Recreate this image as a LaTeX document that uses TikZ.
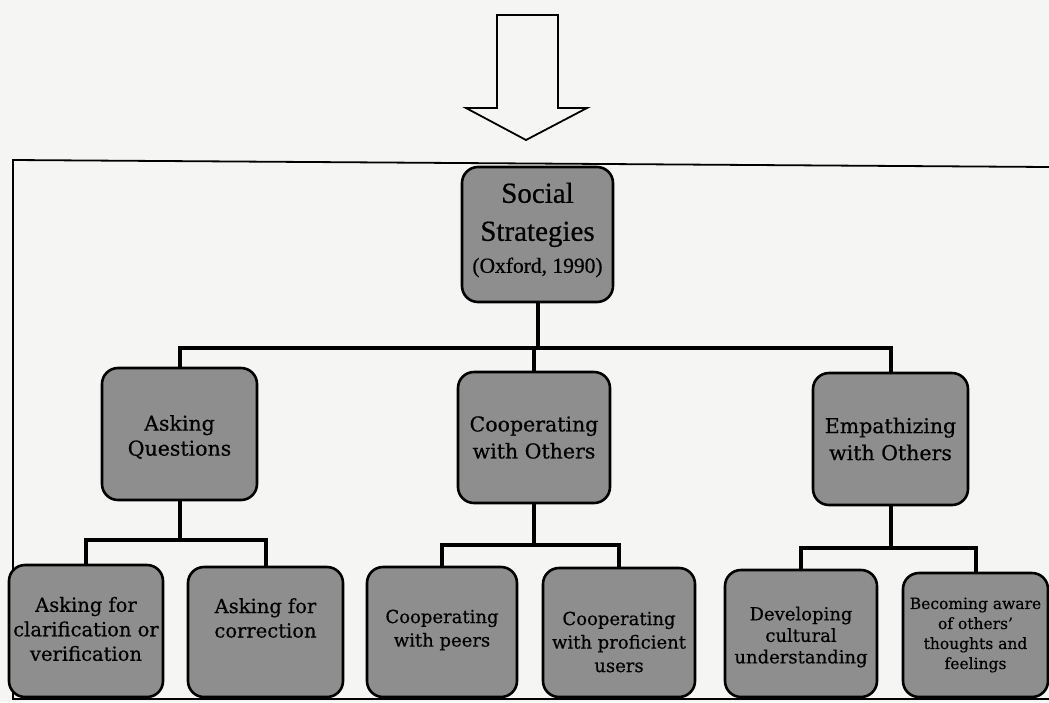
\documentclass[tikz,border=0pt]{standalone}
\usepackage{fontspec}
\setmainfont{DejaVu Serif}[FakeBold=0.5]
\newfontfamily\timesfont{Liberation Serif}[FakeBold=0.6]
\definecolor{boxgray}{RGB}{142,142,142}
\definecolor{paper}{RGB}{245,245,243}
\begin{document}
\begin{tikzpicture}[x=1pt,y=-1pt,
  box/.style={draw=black, line width=2.6pt, fill=boxgray, rounded corners=16pt,
    inner sep=0pt, align=center},
  rootbox/.style={box, minimum width=151pt, minimum height=135pt},
  midbox/.style={box, minimum width=154pt, minimum height=131pt,
    font=\fontsize{20.5}{27}\selectfont},
  leafbox/.style={box, minimum width=152pt, minimum height=129pt},
  leaftext/.style={align=center, inner sep=0pt, font=\fontsize{18}{23.5}\selectfont},
  bigleaftext/.style={align=center, inner sep=0pt, font=\fontsize{19.5}{24.5}\selectfont},
  smalltext/.style={align=center, inner sep=0pt, font=\fontsize{15.5}{20}\selectfont},
  conn/.style={draw=black, line width=4pt, line join=miter},
  frame/.style={draw=black, line width=1.8pt}
]
\useasboundingbox (0,0) rectangle (1049,702);
\fill[paper] (0,0) rectangle (1049,702);

% big hollow arrow
\draw[fill=paper, line width=1.8pt, line join=miter]
  (497,15) -- (558,15) -- (558,108) -- (587,108) -- (526,140) -- (466,108) -- (497,108) -- cycle;

% frame
\draw[frame] (1049,167) -- (13,160) -- (13,699) -- (1049,699);

% bus coordinates
\coordinate (bus1) at (0,348);
\coordinate (bus2) at (0,540);
\coordinate (bus3) at (0,545);
\coordinate (bus4) at (0,548);

% root
\node[rootbox] (root) at (537.5,234.5) {};
\node[align=center, inner sep=0pt, font=\timesfont\fontsize{29}{38}\selectfont] (roottext) at (537.5,230)
  {Social\\Strategies\\[-6pt]{\fontsize{21.5}{26}\selectfont (Oxford, 1990)}};

% level 2
\node[midbox, minimum width=155pt, minimum height=132pt] (aq) at (179.5,434) {};
\node[align=center, inner sep=0pt, font=\fontsize{20.5}{25}\selectfont] (aqt) at (179.5,437) {Asking\\Questions};
\node[midbox, minimum width=152pt] (co) at (534,437.5) {Cooperating\\with Others};
\node[midbox, minimum width=155pt, minimum height=132pt] (eo) at (890.5,439) {Empathizing\\with Others};

% level 3 boxes
\node[leafbox, minimum width=154pt, minimum height=132pt] (b1) at (86,631) {};
\node[leafbox, minimum width=155pt, minimum height=130pt] (b2) at (265.5,632) {};
\node[leafbox, minimum width=150pt, minimum height=130pt] (b3) at (442,632) {};
\node[leafbox, minimum width=152pt, minimum height=129pt] (b4) at (619,632.5) {};
\node[leafbox, minimum width=152pt, minimum height=127pt] (b5) at (801,633.5) {};
\node[leafbox, minimum width=145pt, minimum height=124pt] (b6) at (975.5,635) {};

\node[bigleaftext] (t1) at (86,629) {Asking for\\clarification or\\verification};
\node[bigleaftext] (t2) at (265.5,618) {Asking for\\correction};
\node[leaftext] (t3) at (442,630) {Cooperating\\with peers};
\node[leaftext] (t4) at (619,642) {Cooperating\\with proficient\\users};
\node[leaftext, font=\fontsize{18}{21.5}\selectfont] (t5) at (801,637) {Developing\\cultural\\understanding};
\node[smalltext] (t6) at (975.5,635) {Becoming aware\\of others'\\thoughts and\\feelings};

% connectors
\draw[conn] (root.south) -- (root.south |- bus1);
\draw[conn] (aq.north) |- (bus1 -| eo.north) -- (eo.north);
\draw[conn] (co.north |- bus1) -- (co.north);

\draw[conn] (aq.south) -- (aq.south |- bus2);
\draw[conn] (b1.north) |- (bus2 -| b2.north) -- (b2.north);

\draw[conn] (co.south) -- (co.south |- bus3);
\draw[conn] (b3.north) |- (bus3 -| b4.north) -- (b4.north);

\draw[conn] (eo.south) -- (eo.south |- bus4);
\draw[conn] (b5.north) |- (bus4 -| b6.north) -- (b6.north);
\end{tikzpicture}
\end{document}
